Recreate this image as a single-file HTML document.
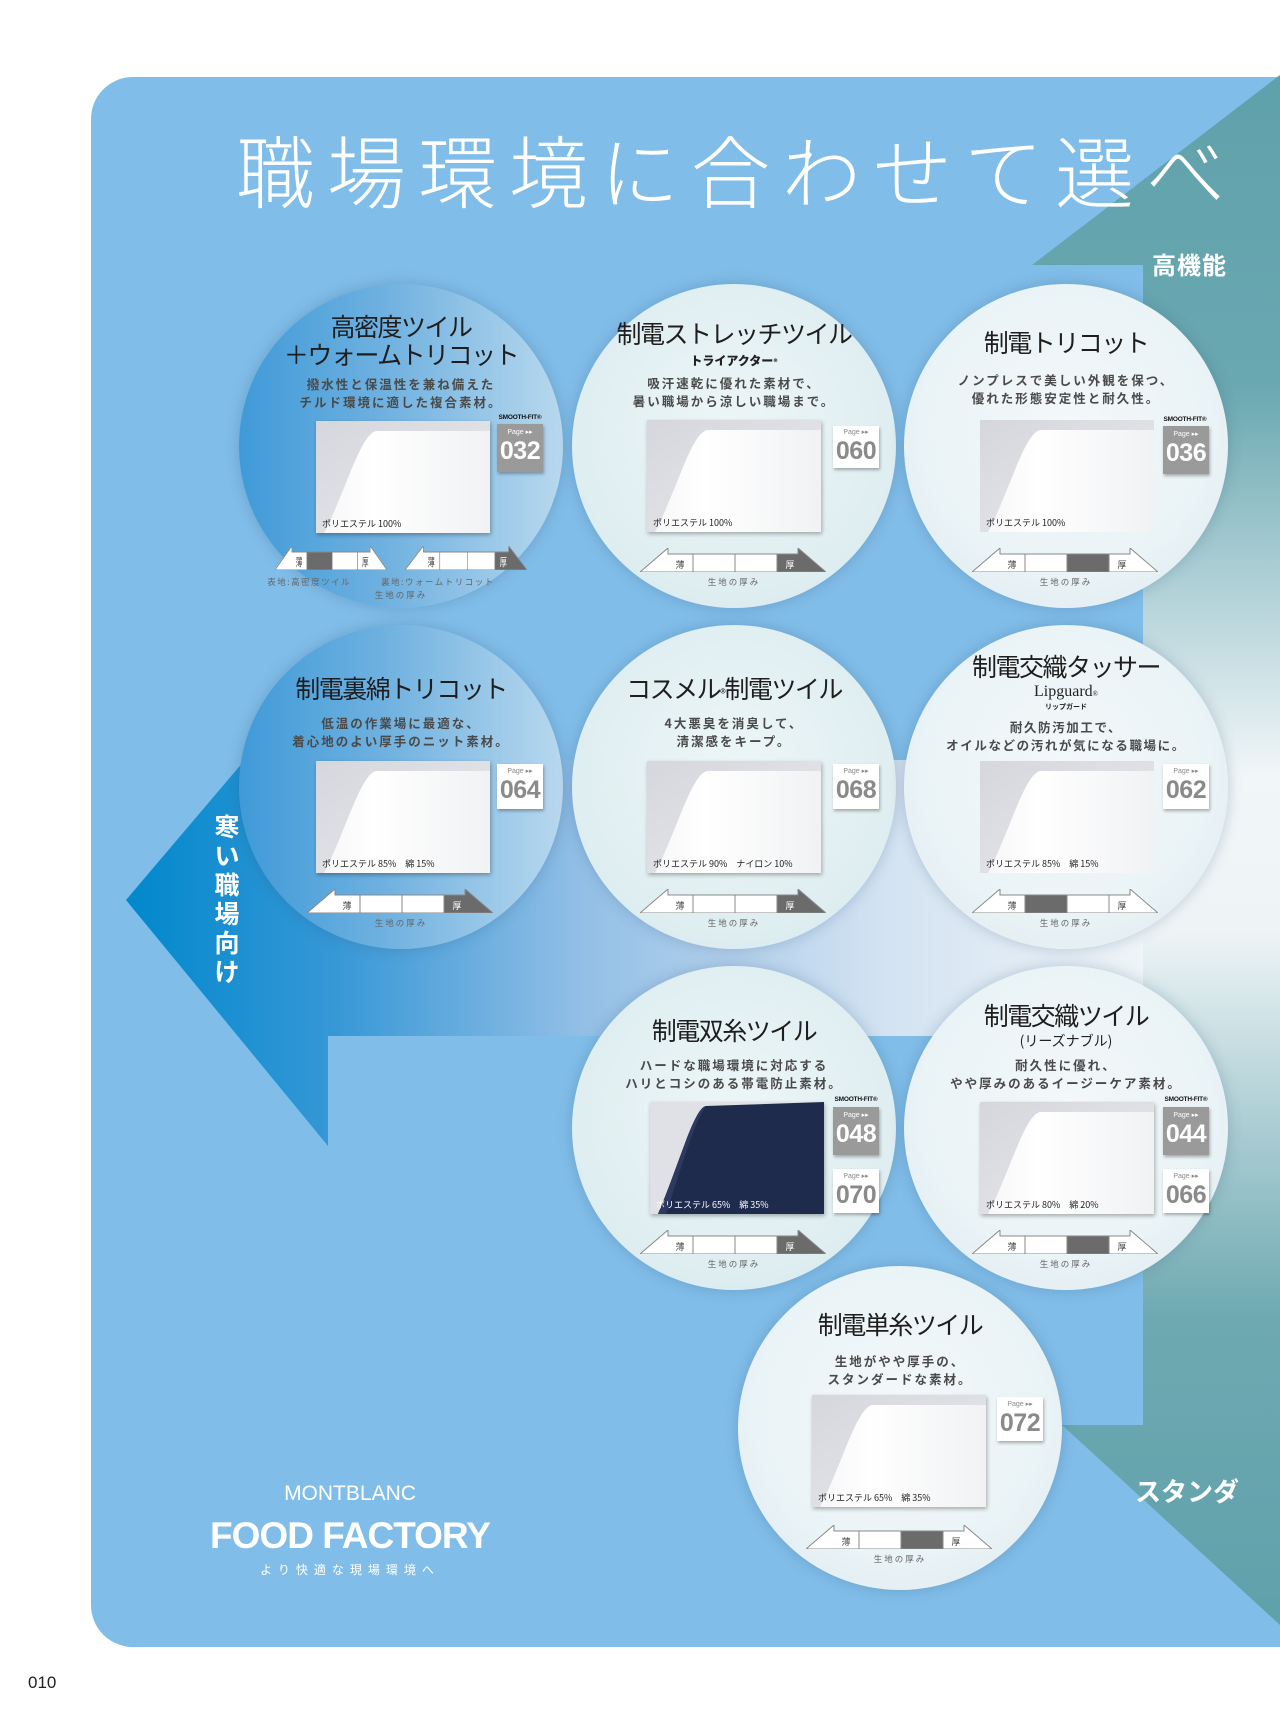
<!DOCTYPE html>
<html><head><meta charset="utf-8">
<style>
*{margin:0;padding:0;box-sizing:border-box}
body{width:1280px;height:1728px;position:relative;background:#fff;overflow:hidden;font-family:"Liberation Sans","Noto Sans CJK JP",sans-serif}
.abs{position:absolute}
.panel{left:91px;top:77px;width:1240px;height:1570px;background:#80bde8;border-radius:42px}
.c{position:absolute;width:324px;height:324px;border-radius:50%;box-shadow:0 0 14px rgba(40,80,120,.25);background:radial-gradient(circle at 50% 45%,#f4f8fa 0%,#eaf3f6 60%,#dceaf0 100%)}
.c.blue{background:linear-gradient(90deg,#3f9ad8 0%,#6fb1e0 45%,#b8d8ee 100%)}
.c.aq{background:radial-gradient(circle at 50% 45%,#eef6f7 0%,#dfeef1 65%,#d2e7ec 100%)}
.c>*{position:absolute}
.t{left:0;width:324px;text-align:center;font-family:"Noto Sans CJK JP",sans-serif;font-size:25px;letter-spacing:-1.5px;color:#1e1e1e;line-height:28px;white-space:nowrap}
.d{left:0;width:324px;text-align:center;font-family:"Noto Sans CJK JP",sans-serif;font-weight:700;font-size:12.5px;letter-spacing:2px;color:#4a4a4a;line-height:18px;white-space:nowrap}
.sw{width:174px;height:112px;box-shadow:1px 2px 4px rgba(0,0,0,.3)}
.comp{font-family:"Noto Sans CJK JP",sans-serif;font-size:9px;color:#222;left:6px;top:96px;position:absolute;white-space:nowrap}
.bg{width:46px;height:46px;text-align:center;color:#fff;background:#9a9a9a;box-shadow:1px 2px 3px rgba(0,0,0,.3)}
.bg.w{background:#fff;color:#8a8a8a}
.bg .p{font-size:7px;margin-top:5px;line-height:8px}
.bg .n{font-family:"Liberation Sans Narrow","Liberation Sans",sans-serif;font-weight:700;font-size:25px;line-height:28px;letter-spacing:-.5px}
.sf{font-size:6.5px;font-weight:900;color:#111;width:50px;text-align:center;letter-spacing:-.2px}
.lb{left:0;width:324px;text-align:center;font-size:8.5px;color:#666;letter-spacing:2px;font-family:"Noto Sans CJK JP",sans-serif}
</style></head><body>
<div class="abs panel"></div>

<svg class="abs" style="left:0;top:0" width="1280" height="1728">
<defs>
<linearGradient id="vg" x1="0" y1="75" x2="0" y2="1630" gradientUnits="userSpaceOnUse">
<stop offset="0" stop-color="#5fa1ab"/><stop offset="0.2" stop-color="#6aa8b1"/><stop offset="0.34" stop-color="#b6d4da"/><stop offset="0.45" stop-color="#f1f6f8"/><stop offset="0.55" stop-color="#eef4f6"/><stop offset="0.68" stop-color="#a9ccd2"/><stop offset="0.8" stop-color="#6ea9b1"/><stop offset="1" stop-color="#5fa1ab"/></linearGradient>
<linearGradient id="hg" x1="126" y1="0" x2="1143" y2="0" gradientUnits="userSpaceOnUse">
<stop offset="0" stop-color="#0088cc"/><stop offset="0.2" stop-color="#3597d6"/><stop offset="0.45" stop-color="#93bfe6"/><stop offset="0.75" stop-color="#d4e3f2"/><stop offset="1" stop-color="#eef4f7"/></linearGradient>
</defs>
<polygon points="1032,265 1280,75 1280,1625 1062,1425 1143,1425 1143,265" fill="url(#vg)"/>
<polygon points="126,900 328,662 328,760 1143,760 1143,1036 328,1036 328,1146" fill="url(#hg)"/>
</svg>

<div class="abs" style="left:236px;top:118px;font-family:'Noto Sans CJK JP',sans-serif;font-weight:300;font-size:79px;letter-spacing:12px;color:#fff;white-space:nowrap;line-height:100px">職場環境に合わせて選べ</div>
<div class="abs" style="left:1152px;top:246px;font-family:'Noto Sans CJK JP',sans-serif;font-weight:700;font-size:24px;color:#fff;letter-spacing:1px">高機能</div>
<div class="abs" style="left:1135px;top:1472px;font-family:'Noto Sans CJK JP',sans-serif;font-weight:700;font-size:26px;color:#fff">スタンダ</div>
<div class="abs" style="left:212px;top:812px;width:30px;font-family:'Noto Sans CJK JP',sans-serif;font-weight:700;font-size:25px;line-height:29px;color:#fff;text-align:center">寒<br>い<br>職<br>場<br>向<br>け</div>

<div class="abs" style="left:192px;top:1482px;width:316px;text-align:center;color:#fff;font-size:21px;letter-spacing:0px;font-weight:300">MONTBLANC</div>
<div class="abs" style="left:192px;top:1515px;width:316px;text-align:center;color:#fff;font-size:37px;font-weight:700;letter-spacing:-1px">FOOD FACTORY</div>
<div class="abs" style="left:192px;top:1561px;width:316px;text-align:center;color:#fff;font-family:'Noto Sans CJK JP',sans-serif;font-size:12px;letter-spacing:6px">より快適な現場環境へ</div>
<div class="abs" style="left:28px;top:1673px;font-size:17px;color:#222">010</div>

<svg width="0" height="0" style="position:absolute">
<defs>
<linearGradient id="fb" x1="0" y1="0" x2="1" y2="1"><stop offset="0" stop-color="#d6d7dc"/><stop offset="1" stop-color="#e8e9ed"/></linearGradient>
<linearGradient id="fw" x1="0" y1="0" x2="1" y2="0"><stop offset="0" stop-color="#f7f7f9"/><stop offset="0.3" stop-color="#ffffff"/><stop offset="1" stop-color="#f1f2f4"/></linearGradient>
<symbol id="fab" viewBox="0 0 174 112"><rect width="174" height="112" fill="url(#fb)"/><path d="M8 112 C30 70 44 14 60 10 L174 10 L174 112Z" fill="url(#fw)"/></symbol>
<symbol id="fabn" viewBox="0 0 174 112"><rect width="174" height="112" fill="#dfe1e6"/><path d="M8 112 C30 60 44 6 56 4 L174 0 L174 112Z" fill="#1f2b4c"/><path d="M56 4 C44 20 30 70 16 112 L8 112 C30 60 44 6 56 4Z" fill="#2c3a62"/></symbol>
</defs></svg>

<div class="c blue" style="left:239px;top:284px">
<div class="t" style="top:28px">高密度ツイル<br>＋ウォームトリコット</div>
<div class="d" style="top:91px">撥水性と保温性を兼ね備えた<br>チルド環境に適した複合素材。</div>
<div class="sw" style="left:77px;top:137px"><svg width="174" height="112"><use href="#fab"/></svg><div class="comp">ポリエステル 100%</div></div>
<div class="sf" style="left:256px;top:130px">SMOOTH-FIT®</div>
<div class="bg" style="left:258px;top:140px;height:48px"><div class="p">Page ▸▸</div><div class="n">032</div></div>
<svg style="left:36px;top:262px" width="112" height="24" viewBox="0 0 186 24" preserveAspectRatio="none"><g stroke="#888" stroke-width="1"><polygon points="0,24 28,0 28,6 53,6 53,24" fill="#fff"/><rect x="53" y="6" width="42" height="18" fill="#6b6b6b"/><rect x="95" y="6" width="42" height="18" fill="#fff"/><polygon points="137,6 158,6 158,0 186,24 137,24" fill="#fff"/></g><text x="40" y="20" font-size="11" text-anchor="middle" fill="#444">薄</text><text x="150" y="20" font-size="11" text-anchor="middle" fill="#444">厚</text></svg>
<svg style="left:166px;top:262px" width="122" height="24" viewBox="0 0 186 24" preserveAspectRatio="none"><g stroke="#888" stroke-width="1"><polygon points="0,24 28,0 28,6 53,6 53,24" fill="#fff"/><rect x="53" y="6" width="42" height="18" fill="#fff"/><rect x="95" y="6" width="42" height="18" fill="#fff"/><polygon points="137,6 158,6 158,0 186,24 137,24" fill="#6b6b6b"/></g><text x="40" y="20" font-size="11" text-anchor="middle" fill="#444">薄</text><text x="150" y="20" font-size="11" text-anchor="middle" fill="#fff">厚</text></svg>
<div class="lb" style="top:292px;left:-20px;letter-spacing:1.5px">表地:高密度ツイル　　　裏地:ウォームトリコット</div>
<div class="lb" style="top:305px">生地の厚み</div>
</div>

<div class="c aq" style="left:572px;top:284px">
<div class="t" style="top:35px">制電ストレッチツイル</div>
<div class="abs" style="top:68px;left:0;width:324px;text-align:center;font-family:'Noto Sans CJK JP',sans-serif;font-weight:900;font-size:12px;color:#222">トライアクター<span style="font-size:8px">®</span></div>
<div class="d" style="top:90px">吸汗速乾に優れた素材で、<br>暑い職場から涼しい職場まで。</div>
<div class="sw" style="left:75px;top:136px"><svg width="174" height="112"><use href="#fab"/></svg><div class="comp">ポリエステル 100%</div></div>
<div class="bg w" style="left:261px;top:142px;height:42px"><div class="p" style="margin-top:3px">Page ▸▸</div><div class="n">060</div></div>
<svg style="left:68px;top:264px" width="186" height="24"><g stroke="#888"><polygon points="0,24 28,0 28,6 53,6 53,24" fill="#fff"/><rect x="53" y="6" width="42" height="18" fill="#fff"/><rect x="95" y="6" width="42" height="18" fill="#fff"/><polygon points="137,6 158,6 158,0 186,24 137,24" fill="#6b6b6b"/></g><text x="40" y="20" font-size="9" text-anchor="middle" fill="#444">薄</text><text x="150" y="20" font-size="9" text-anchor="middle" fill="#fff">厚</text></svg>
<div class="lb" style="top:292px">生地の厚み</div>
</div>

<div class="c" style="left:904px;top:284px">
<div class="t" style="top:44px">制電トリコット</div>
<div class="d" style="top:87px">ノンプレスで美しい外観を保つ、<br>優れた形態安定性と耐久性。</div>
<div class="sw" style="left:76px;top:136px;box-shadow:none"><svg width="174" height="112"><use href="#fab"/></svg><div class="comp">ポリエステル 100%</div></div>
<div class="sf" style="left:256px;top:132px">SMOOTH-FIT®</div>
<div class="bg" style="left:259px;top:142px;height:48px"><div class="p">Page ▸▸</div><div class="n">036</div></div>
<svg style="left:68px;top:264px" width="186" height="24"><g stroke="#888"><polygon points="0,24 28,0 28,6 53,6 53,24" fill="#fff"/><rect x="53" y="6" width="42" height="18" fill="#fff"/><rect x="95" y="6" width="42" height="18" fill="#6b6b6b"/><polygon points="137,6 158,6 158,0 186,24 137,24" fill="#fff"/></g><text x="40" y="20" font-size="9" text-anchor="middle" fill="#444">薄</text><text x="150" y="20" font-size="9" text-anchor="middle" fill="#444">厚</text></svg>
<div class="lb" style="top:292px">生地の厚み</div>
</div>

<div class="c blue" style="left:239px;top:625px">
<div class="t" style="top:49px">制電裏綿トリコット</div>
<div class="d" style="top:89px">低温の作業場に最適な、<br>着心地のよい厚手のニット素材。</div>
<div class="sw" style="left:77px;top:136px"><svg width="174" height="112"><use href="#fab"/></svg><div class="comp">ポリエステル 85%　綿 15%</div></div>
<div class="bg w" style="left:258px;top:139px;height:45px"><div class="p" style="margin-top:4px">Page ▸▸</div><div class="n">064</div></div>
<svg style="left:68px;top:264px" width="186" height="24"><g stroke="#888"><polygon points="0,24 28,0 28,6 53,6 53,24" fill="#fff"/><rect x="53" y="6" width="42" height="18" fill="#fff"/><rect x="95" y="6" width="42" height="18" fill="#fff"/><polygon points="137,6 158,6 158,0 186,24 137,24" fill="#6b6b6b"/></g><text x="40" y="20" font-size="9" text-anchor="middle" fill="#444">薄</text><text x="150" y="20" font-size="9" text-anchor="middle" fill="#fff">厚</text></svg>
<div class="lb" style="top:292px">生地の厚み</div>
</div>

<div class="c aq" style="left:572px;top:625px">
<div class="t" style="top:49px">コスメル<span style="font-size:12px">®</span>制電ツイル</div>
<div class="d" style="top:89px">4大悪臭を消臭して、<br>清潔感をキープ。</div>
<div class="sw" style="left:75px;top:136px"><svg width="174" height="112"><use href="#fab"/></svg><div class="comp">ポリエステル 90%　ナイロン 10%</div></div>
<div class="bg w" style="left:261px;top:139px;height:45px"><div class="p" style="margin-top:4px">Page ▸▸</div><div class="n">068</div></div>
<svg style="left:68px;top:264px" width="186" height="24"><g stroke="#888"><polygon points="0,24 28,0 28,6 53,6 53,24" fill="#fff"/><rect x="53" y="6" width="42" height="18" fill="#fff"/><rect x="95" y="6" width="42" height="18" fill="#fff"/><polygon points="137,6 158,6 158,0 186,24 137,24" fill="#6b6b6b"/></g><text x="40" y="20" font-size="9" text-anchor="middle" fill="#444">薄</text><text x="150" y="20" font-size="9" text-anchor="middle" fill="#fff">厚</text></svg>
<div class="lb" style="top:292px">生地の厚み</div>
</div>

<div class="c" style="left:904px;top:625px">
<div class="t" style="top:27px">制電交織タッサー</div>
<div class="abs" style="top:58px;left:0;width:324px;text-align:center;font-family:'Liberation Serif',serif;font-size:16px;color:#222">Lipguard<span style="font-size:7px">®</span></div>
<div class="abs" style="top:77px;left:0;width:324px;text-align:center;font-family:'Noto Sans CJK JP',sans-serif;font-size:7px;font-weight:700;color:#222">リップガード</div>
<div class="d" style="top:93px;letter-spacing:1.6px">耐久防汚加工で、<br>オイルなどの汚れが気になる職場に。</div>
<div class="sw" style="left:76px;top:136px;box-shadow:none"><svg width="174" height="112"><use href="#fab"/></svg><div class="comp">ポリエステル 85%　綿 15%</div></div>
<div class="bg w" style="left:259px;top:139px;height:45px"><div class="p" style="margin-top:4px">Page ▸▸</div><div class="n">062</div></div>
<svg style="left:68px;top:264px" width="186" height="24"><g stroke="#888"><polygon points="0,24 28,0 28,6 53,6 53,24" fill="#fff"/><rect x="53" y="6" width="42" height="18" fill="#6b6b6b"/><rect x="95" y="6" width="42" height="18" fill="#fff"/><polygon points="137,6 158,6 158,0 186,24 137,24" fill="#fff"/></g><text x="40" y="20" font-size="9" text-anchor="middle" fill="#444">薄</text><text x="150" y="20" font-size="9" text-anchor="middle" fill="#444">厚</text></svg>
<div class="lb" style="top:292px">生地の厚み</div>
</div>

<div class="c aq" style="left:572px;top:966px">
<div class="t" style="top:50px">制電双糸ツイル</div>
<div class="d" style="top:90px">ハードな職場環境に対応する<br>ハリとコシのある帯電防止素材。</div>
<div class="sw" style="left:78px;top:136px"><svg width="174" height="112"><use href="#fabn"/></svg><div class="comp" style="color:#fff">ポリエステル 65%　綿 35%</div></div>
<div class="sf" style="left:259px;top:130px">SMOOTH-FIT®</div>
<div class="bg" style="left:261px;top:141px;height:48px"><div class="p">Page ▸▸</div><div class="n">048</div></div>
<div class="bg w" style="left:261px;top:203px;height:44px"><div class="p" style="margin-top:4px">Page ▸▸</div><div class="n">070</div></div>
<svg style="left:68px;top:264px" width="186" height="24"><g stroke="#888"><polygon points="0,24 28,0 28,6 53,6 53,24" fill="#fff"/><rect x="53" y="6" width="42" height="18" fill="#fff"/><rect x="95" y="6" width="42" height="18" fill="#fff"/><polygon points="137,6 158,6 158,0 186,24 137,24" fill="#6b6b6b"/></g><text x="40" y="20" font-size="9" text-anchor="middle" fill="#444">薄</text><text x="150" y="20" font-size="9" text-anchor="middle" fill="#fff">厚</text></svg>
<div class="lb" style="top:292px">生地の厚み</div>
</div>

<div class="c" style="left:904px;top:966px">
<div class="t" style="top:35px">制電交織ツイル</div>
<div class="abs" style="top:65px;left:0;width:324px;text-align:center;font-family:'Noto Sans CJK JP',sans-serif;font-size:14px;color:#222">(リーズナブル)</div>
<div class="d" style="top:90px">耐久性に優れ、<br>やや厚みのあるイージーケア素材。</div>
<div class="sw" style="left:76px;top:136px"><svg width="174" height="112"><use href="#fab"/></svg><div class="comp">ポリエステル 80%　綿 20%</div></div>
<div class="sf" style="left:257px;top:130px">SMOOTH-FIT®</div>
<div class="bg" style="left:259px;top:141px;height:48px"><div class="p">Page ▸▸</div><div class="n">044</div></div>
<div class="bg w" style="left:259px;top:203px;height:44px"><div class="p" style="margin-top:4px">Page ▸▸</div><div class="n">066</div></div>
<svg style="left:68px;top:264px" width="186" height="24"><g stroke="#888"><polygon points="0,24 28,0 28,6 53,6 53,24" fill="#fff"/><rect x="53" y="6" width="42" height="18" fill="#fff"/><rect x="95" y="6" width="42" height="18" fill="#6b6b6b"/><polygon points="137,6 158,6 158,0 186,24 137,24" fill="#fff"/></g><text x="40" y="20" font-size="9" text-anchor="middle" fill="#444">薄</text><text x="150" y="20" font-size="9" text-anchor="middle" fill="#444">厚</text></svg>
<div class="lb" style="top:292px">生地の厚み</div>
</div>

<div class="c" style="left:738px;top:1266px">
<div class="t" style="top:44px">制電単糸ツイル</div>
<div class="d" style="top:86px">生地がやや厚手の、<br>スタンダードな素材。</div>
<div class="sw" style="left:74px;top:129px"><svg width="174" height="112"><use href="#fab"/></svg><div class="comp">ポリエステル 65%　綿 35%</div></div>
<div class="bg w" style="left:259px;top:131px;height:44px"><div class="p" style="margin-top:4px">Page ▸▸</div><div class="n">072</div></div>
<svg style="left:68px;top:259px" width="186" height="24"><g stroke="#888"><polygon points="0,24 28,0 28,6 53,6 53,24" fill="#fff"/><rect x="53" y="6" width="42" height="18" fill="#fff"/><rect x="95" y="6" width="42" height="18" fill="#6b6b6b"/><polygon points="137,6 158,6 158,0 186,24 137,24" fill="#fff"/></g><text x="40" y="20" font-size="9" text-anchor="middle" fill="#444">薄</text><text x="150" y="20" font-size="9" text-anchor="middle" fill="#444">厚</text></svg>
<div class="lb" style="top:287px">生地の厚み</div>
</div>

</body></html>
